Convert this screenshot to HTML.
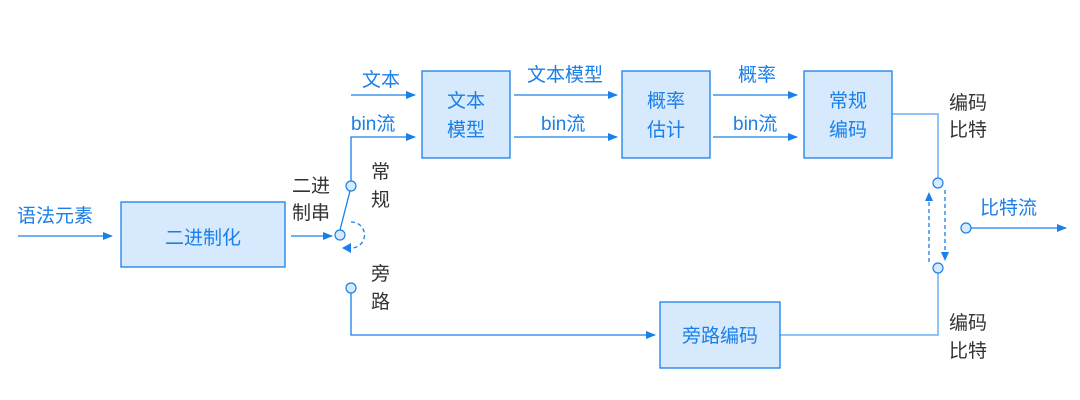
<!DOCTYPE html>
<html><head><meta charset="utf-8"><style>
html,body{margin:0;padding:0;background:#fff;}
svg{display:block;}
text{font-family:"Liberation Sans","Noto Sans CJK SC",sans-serif;font-size:19px;}
.b{fill:#1a7fe8;}
.k{fill:#333;}
.bt{fill:#1a7fe8;text-anchor:middle;}
</style></head><body>
<svg width="1080" height="400" viewBox="0 0 1080 400" xmlns="http://www.w3.org/2000/svg">
<defs>
<marker id="a" markerWidth="10" markerHeight="8" refX="9" refY="4" orient="auto" markerUnits="userSpaceOnUse"><path d="M0,0 L10,4 L0,8 z" fill="#1a7fe8"/></marker>
</defs>
<g stroke="#1a7fe8" stroke-width="1.3" fill="none">
<line x1="18" y1="236" x2="112" y2="236" marker-end="url(#a)"/>
<line x1="291" y1="236" x2="332" y2="236" marker-end="url(#a)"/>
<line x1="351" y1="95" x2="415" y2="95" marker-end="url(#a)"/>
<polyline points="351,181 351,137 415,137" marker-end="url(#a)"/>
<line x1="514" y1="95" x2="617" y2="95" marker-end="url(#a)"/>
<line x1="514" y1="137" x2="617" y2="137" marker-end="url(#a)"/>
<line x1="713" y1="95" x2="797" y2="95" marker-end="url(#a)"/>
<line x1="713" y1="137" x2="797" y2="137" marker-end="url(#a)"/>
<polyline points="351,293 351,335 655,335" marker-end="url(#a)"/>
<line x1="340" y1="230" x2="350" y2="191"/>
<line x1="971" y1="228" x2="1066" y2="228" marker-end="url(#a)"/>
<path d="M351,222 A11,11 0 0 1 352,248" stroke-dasharray="4,3"/>
<line x1="929" y1="262" x2="929" y2="200" stroke-dasharray="4,3"/>
<line x1="945" y1="190" x2="945" y2="253" stroke-dasharray="4,3"/>
</g>
<path d="M342,248 L351,243 L351,253 z" fill="#1a7fe8"/>
<path d="M929,192 L925,201 L933,201 z" fill="#1a7fe8"/>
<path d="M945,261 L941,252 L949,252 z" fill="#1a7fe8"/>
<g stroke="#6cb2f7" stroke-width="1.5" fill="none">
<polyline points="892,114 938,114 938,178"/>
<polyline points="938,273 938,335 780,335"/>
</g>
<g fill="#d6e9fd" stroke="#1a7fe8" stroke-width="1.3">
<rect x="121" y="202" width="164" height="65"/>
<rect x="422" y="71" width="88" height="87"/>
<rect x="622" y="71" width="88" height="87"/>
<rect x="804" y="71" width="88" height="87"/>
<rect x="660" y="302" width="120" height="66"/>
</g>
<g fill="#d6e9fd" stroke="#1a7fe8" stroke-width="1.2">
<circle cx="340" cy="235" r="5"/>
<circle cx="351" cy="186" r="5"/>
<circle cx="351" cy="288" r="5"/>
<circle cx="938" cy="183" r="5"/>
<circle cx="938" cy="268" r="5"/>
<circle cx="966" cy="228" r="5"/>
</g>
<text class="b" x="17" y="222">语法元素</text>
<text class="bt" x="203" y="244">二进制化</text>
<text class="k" x="292" y="192">二进</text>
<text class="k" x="292" y="219">制串</text>
<text class="k" x="371" y="178">常</text>
<text class="k" x="371" y="206">规</text>
<text class="k" x="371" y="280">旁</text>
<text class="k" x="371" y="308">路</text>
<text class="b" x="362" y="86">文本</text>
<text class="b" x="351" y="130">bin流</text>
<text class="bt" x="466" y="107">文本</text>
<text class="bt" x="466" y="136">模型</text>
<text class="b" x="527" y="81">文本模型</text>
<text class="b" x="541" y="130">bin流</text>
<text class="bt" x="666" y="107">概率</text>
<text class="bt" x="666" y="136">估计</text>
<text class="b" x="738" y="81">概率</text>
<text class="b" x="733" y="130">bin流</text>
<text class="bt" x="848" y="107">常规</text>
<text class="bt" x="848" y="136">编码</text>
<text class="bt" x="720" y="342">旁路编码</text>
<text class="k" x="949" y="109">编码</text>
<text class="k" x="949" y="136">比特</text>
<text class="k" x="949" y="329">编码</text>
<text class="k" x="949" y="357">比特</text>
<text class="b" x="980" y="214">比特流</text>
</svg>
</body></html>
